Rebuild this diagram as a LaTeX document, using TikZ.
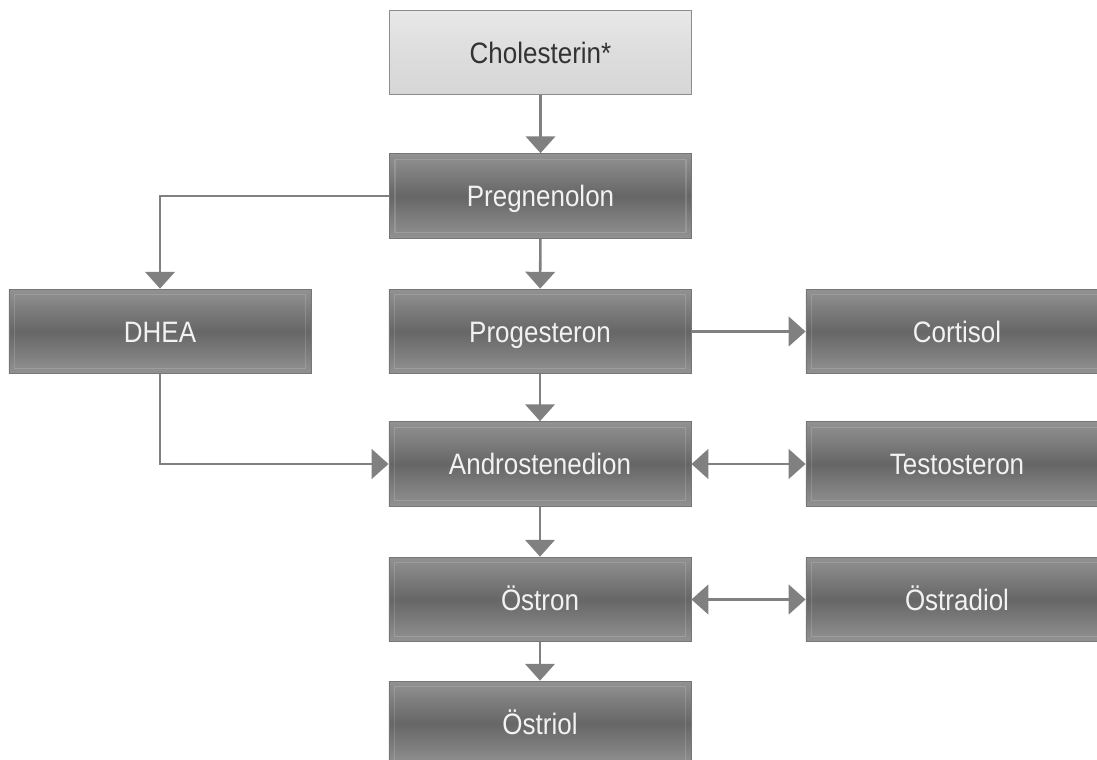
\documentclass[tikz,border=0pt]{standalone}
\usepackage{fontspec}
\setmainfont{Liberation Sans}[FakeStretch=0.88]
\usetikzlibrary{arrows.meta, positioning}
\definecolor{boxlight}{RGB}{146,146,146}
\definecolor{boxdark}{RGB}{102,102,102}
\definecolor{boxedge}{RGB}{118,118,118}
\definecolor{cholight}{RGB}{232,232,232}
\definecolor{chomid}{RGB}{214,214,214}
\definecolor{choedge}{RGB}{140,140,140}
\definecolor{pfeil}{RGB}{128,128,128}
\tikzset{
  stoff/.style={rectangle, minimum width=7.55cm, minimum height=2.12cm, inner sep=0pt,
    text height=15pt, text depth=0pt,
    draw=boxedge, line width=0.6pt, top color=boxlight, bottom color=boxlight,
    middle color=boxdark, text=white!90!gray, font=\fontsize{21}{25}\selectfont,
    path picture={\draw[white, opacity=.15, line width=1pt]
      ([shift={(4pt,-4pt)}]path picture bounding box.north west) rectangle
      ([shift={(-4pt,4pt)}]path picture bounding box.south east);}},
  start/.style={stoff, top color=cholight, bottom color=chomid, middle color=chomid!60!cholight,
    draw=choedge, text=black!80, path picture={}},
  weg/.style={draw=pfeil, line width=1.8pt, -{Triangle[width=21pt,length=12pt]}},
  wegzwei/.style={weg, {Triangle[width=21pt,length=12pt]}-{Triangle[width=21pt,length=12pt]}}
}
\begin{document}
\begin{tikzpicture}[x=0.025cm,y=-0.025cm]
  \useasboundingbox (0,0) rectangle (1097,760);
  %Kaesten mittlere Spalte
  \node[start] (chol) at (540.5,52.5) {Cholesterin*};
  \node[stoff] (preg) at (540.5,196) {Pregnenolon};
  \node[stoff] (prog) at (540,331.5) {Progesteron};
  \node[stoff] (andro) at (540,464) {Androstenedion};
  \node[stoff] (oestron) at (540,599.5) {Östron};
  \node[stoff] (oestriol) at (540,723.5) {Östriol};
  %Kaesten links und rechts
  \node[stoff] (dhea) at (160,331.5) {DHEA};
  \node[stoff] (cort) at (957,331.5) {Cortisol};
  \node[stoff] (testo) at (957,464) {Testosteron};
  \node[stoff] (oestradiol) at (957,599.5) {Östradiol};
  %Pfeile
  \draw[weg] (chol) -- (preg);
  \draw[weg] (preg) -- (prog);
  \draw[weg] (prog) -- (andro);
  \draw[weg] (andro) -- (oestron);
  \draw[weg] (oestron) -- (oestriol);
  \draw[weg] (preg.west) -| (dhea.north);
  \draw[weg] (dhea.south) |- (andro.west);
  \draw[weg] (prog) -- (cort);
  \draw[wegzwei] (andro) -- (testo);
  \draw[wegzwei] (oestron) -- (oestradiol);
\end{tikzpicture}
\end{document}
